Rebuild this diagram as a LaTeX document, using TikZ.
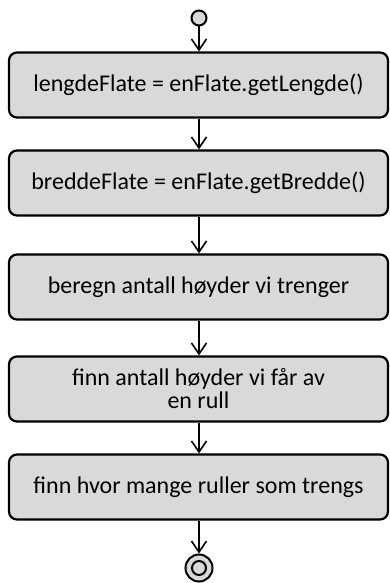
\documentclass[tikz,border=0pt]{standalone}
\usepackage{fontspec}
\setmainfont{Carlito}
\usetikzlibrary{arrows.meta}
\definecolor{boxgray}{HTML}{D9D9D9}
\tikzset{
  actbox/.style={draw=black, fill=boxgray, line width=2.2pt, rounded corners=8pt,
    minimum width=379pt, minimum height=65pt, align=center, inner sep=0pt,
    font=\fontsize{24}{23}\selectfont},
  flow/.style={line width=1.6pt, -{Straight Barb[length=11pt,width=15pt,line width=1.6pt]}},
  initnode/.style={circle, draw=black, fill=boxgray, line width=2pt, minimum size=15pt, inner sep=0pt},
  finalouter/.style={circle, draw=black, fill=boxgray, line width=2pt, minimum size=27pt, inner sep=0pt},
  finalinner/.style={circle, draw=black, fill=boxgray, line width=2pt, minimum size=14pt, inner sep=0pt}
}
\begin{document}
\begin{tikzpicture}[x=1pt, y=-1pt]
  \useasboundingbox (0,0) rectangle (390,583);
  % start and end markers
  \node[initnode] (start) at (199,18) {};
  \node[finalouter] (stop) at (199,568) {};
  \node[finalinner] (stopin) at (199,568) {};
  % activity boxes
  \node[actbox] (b1) at (198.5,85) {lengdeFlate = enFlate.getLengde()};
  \node[actbox] (b2) at (198.5,183) {breddeFlate = enFlate.getBredde()};
  \node[actbox] (b3) at (198.5,287) {beregn antall høyder vi trenger};
  \node[actbox] (b4) at (198.5,389) {finn antall høyder vi får av\\en rull};
  \node[actbox] (b5) at (198.5,487) {finn hvor mange ruller som trengs};
  % control flow
  \draw[flow] (start) -- (b1.north -| start);
  \draw[flow] (b1.south -| start) -- (b2.north -| start);
  \draw[flow] (b2.south -| start) -- (b3.north -| start);
  \draw[flow] (b3.south -| start) -- (b4.north -| start);
  \draw[flow] (b4.south -| start) -- (b5.north -| start);
  \draw[flow] (b5.south -| start) -- (stop);
\end{tikzpicture}
\end{document}
